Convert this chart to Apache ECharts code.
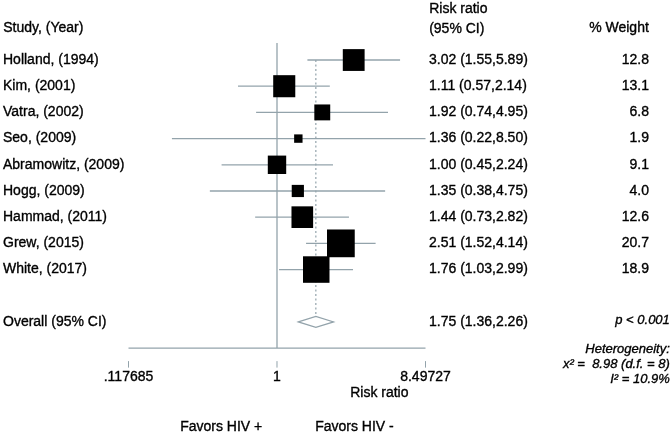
<!DOCTYPE html>
<html>
<head>
<meta charset="utf-8">
<script src="https://cdn.jsdelivr.net/npm/echarts@6/dist/echarts.min.js"></script>
<style>html,body{margin:0;padding:0;background:#fff}#c{width:672px;height:436px}</style>
</head>
<body>
<div id="c"></div>
<script>
const studies = ['Holland, (1994)','Kim, (2001)','Vatra, (2002)','Seo, (2009)','Abramowitz, (2009)','Hogg, (2009)','Hammad, (2011)','Grew, (2015)','White, (2017)'];
const riskRatio = [3.02,1.11,1.92,1.36,1.00,1.35,1.44,2.51,1.76];
const ciLow = [1.55,0.57,0.74,0.22,0.45,0.38,0.73,1.52,1.03];
const ciHigh = [5.89,2.14,4.95,8.50,2.24,4.75,2.82,4.14,2.99];
const weights = [12.8,13.1,6.8,1.9,9.1,4.0,12.6,20.7,18.9];
const overall = [1.75,1.36,2.26]; // RR, low, high
const tickValues = [0.117685,1,8.49727];
const tickLabels = ['.117685','1','8.49727'];

const GREY = '#93a3ab';
const FONT = '"Liberation Sans", Arial, Helvetica, sans-serif';
const SW = 0.35; // slight text stroke to mimic heavier rendering
const overallRow = studies.length + 1;
const axisRow = overallRow + 1;
const xMin = tickValues[0], xMax = tickValues[tickValues.length-1];

function ciText(r,l,h){return r.toFixed(2)+' ('+l.toFixed(2)+','+h.toFixed(2)+')';}
function txt(o, text, font){
  return Object.assign({type:'text', style:{text:text, font:font, fill:'#000', stroke:'#000', lineWidth:SW}}, o);
}

const chart = echarts.init(document.getElementById('c'), null, {renderer:'canvas'});
chart.setOption({
  animation:false,
  grid:{left:128.5, right:246.5, top:43, bottom:74},
  xAxis:{
    type:'log', min:xMin, max:xMax,
    axisLine:{show:false},
    splitLine:{show:false},
    minorTick:{show:false},
    axisTick:{show:false},
    axisLabel:{customValues:tickValues, margin:8, color:'#000', fontSize:14, fontFamily:FONT,
      textBorderColor:'#000', textBorderWidth:SW,
      formatter:function(v){
        let best=0, bd=Infinity;
        tickValues.forEach((t,i)=>{const d=Math.abs(Math.log(v/t)); if(d<bd){bd=d;best=i;}});
        return tickLabels[best];
      }}
  },
  yAxis:{type:'value', min:-0.65, max:axisRow+0.53, inverse:true, show:false},
  graphic:[
    txt({left:3, top:21}, 'Study, (Year)', '14px '+FONT),
    txt({left:429, top:2}, 'Risk ratio', '14px '+FONT),
    txt({left:429, top:22}, '(95% CI)', '14px '+FONT),
    txt({right:23, top:21}, '% Weight', '14px '+FONT),
    txt({right:2, top:314}, 'p < 0.001', 'italic 13px '+FONT),
    txt({right:2, top:343}, 'Heterogeneity:', 'italic 13px '+FONT),
    txt({right:2, top:358}, 'x\u00b2 =  8.98 (d.f. = 8)', 'italic 13px '+FONT),
    txt({right:2, top:373}, 'I\u00b2 = 10.9%', 'italic 13px '+FONT),
    txt({left:350, top:386}, 'Risk ratio', '14px '+FONT),
    txt({left:180, top:420}, 'Favors HIV +', '14px '+FONT),
    txt({left:315, top:420}, 'Favors HIV -', '14px '+FONT)
  ],
  series:[
    {
      type:'custom', silent:true, clip:false,
      encode:{x:1, y:0},
      data:[[0, 1]],
      renderItem:function(params, api){
        const vTop = api.coord([1, -0.65]);
        const vBot = api.coord([1, axisRow]);
        const dTop = api.coord([overall[0], 0]);
        const c = api.coord([overall[0], overallRow]);
        const l = api.coord([overall[1], overallRow]);
        const h = api.coord([overall[2], overallRow]);
        const hh = 5.5;
        const aL = api.coord([xMin, axisRow]);
        const aR = api.coord([xMax, axisRow]);
        const children = [
          {type:'line', shape:{x1:vTop[0],y1:vTop[1],x2:vBot[0],y2:vBot[1]}, style:{stroke:GREY, lineWidth:1.3}},
          {type:'line', shape:{x1:dTop[0],y1:dTop[1],x2:c[0],y2:c[1]-hh}, style:{stroke:GREY, lineWidth:1.2, lineDash:[2,2.5]}},
          {type:'polygon', shape:{points:[[l[0],c[1]],[c[0],c[1]-hh],[h[0],c[1]],[c[0],c[1]+hh]]}, style:{fill:'#fff', stroke:GREY, lineWidth:1.2}},
          {type:'line', shape:{x1:aL[0],y1:aL[1],x2:aR[0],y2:aR[1]}, style:{stroke:GREY, lineWidth:1.3}}
        ];
        tickValues.forEach(t=>{
          const p = api.coord([t, axisRow]);
          children.push({type:'line', shape:{x1:p[0],y1:p[1]+13,x2:p[0],y2:p[1]+19.5}, style:{stroke:GREY, lineWidth:1}});
        });
        return {type:'group', children:children};
      }
    },
    {
      type:'custom', silent:true, clip:false,
      encode:{x:[1,2,3], y:0},
      data:studies.map((s,i)=>[i, riskRatio[i], ciLow[i], ciHigh[i], weights[i]]),
      renderItem:function(params, api){
        const row = api.value(0);
        const p = api.coord([api.value(1), row]);
        const l = api.coord([api.value(2), row]);
        const h = api.coord([Math.min(api.value(3), xMax), row]);
        const s = 6.1*Math.sqrt(api.value(4));
        return {type:'group', children:[
          {type:'line', shape:{x1:l[0],y1:l[1],x2:h[0],y2:h[1]}, style:{stroke:GREY, lineWidth:1.3}},
          {type:'rect', shape:{x:p[0]-s/2, y:p[1]-s/2, width:s, height:s}, style:{fill:'#000'}}
        ]};
      }
    },
    {
      type:'custom', silent:true, clip:false,
      encode:{x:1, y:0},
      data:studies.map((s,i)=>[i, 1]).concat([[overallRow, 1]]),
      renderItem:function(params, api){
        const idx = params.dataIndex;
        const row = api.value(0);
        const y = api.coord([1, row])[1];
        let name, ci, w;
        if(idx < studies.length){
          name = studies[idx];
          ci = ciText(riskRatio[idx], ciLow[idx], ciHigh[idx]);
          w = weights[idx].toFixed(1);
        } else {
          name = 'Overall (95% CI)';
          ci = ciText(overall[0], overall[1], overall[2]);
          w = '';
        }
        const font = '14px '+FONT;
        const st = (t, align)=>({text:t, font:font, fill:'#000', stroke:'#000', lineWidth:SW, textAlign:align, textVerticalAlign:'middle'});
        return {type:'group', children:[
          {type:'text', x:3, y:y, style:st(name,'left')},
          {type:'text', x:429, y:y, style:st(ci,'left')},
          {type:'text', x:649, y:y, style:st(w,'right')}
        ]};
      }
    }
  ]
});
</script>
</body>
</html>
